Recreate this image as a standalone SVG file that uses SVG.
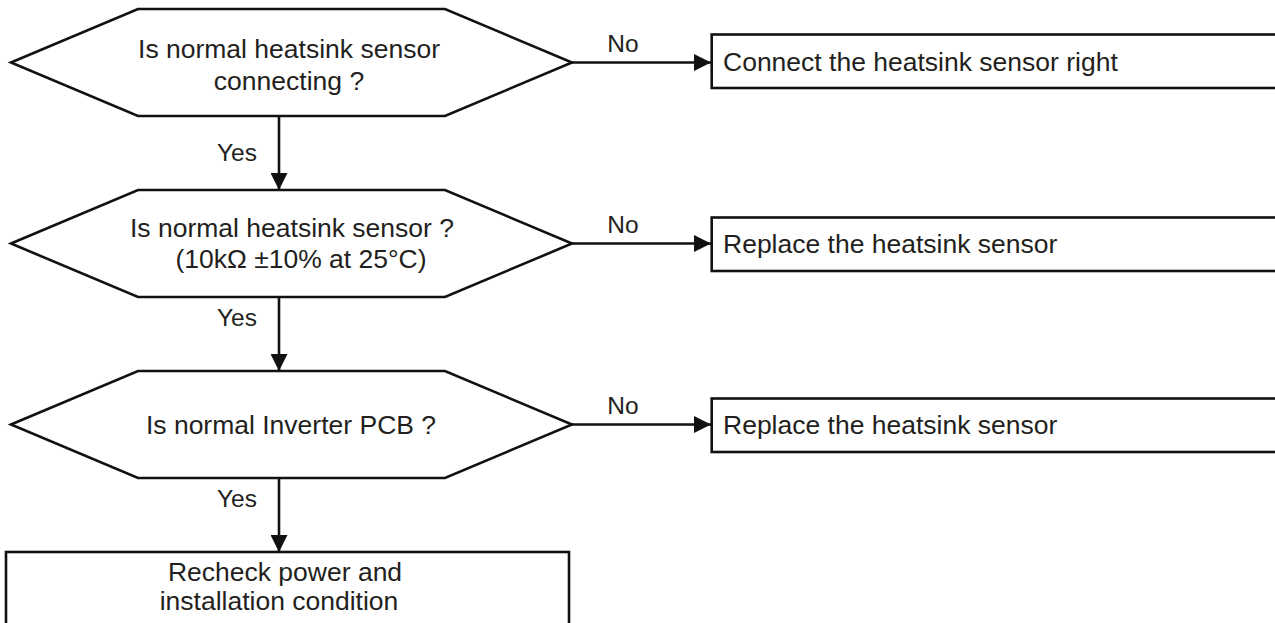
<svg xmlns="http://www.w3.org/2000/svg" width="1275" height="623" viewBox="0 0 1275 623">
<defs>
<style>
.shape{fill:#fff;stroke:#111;stroke-width:2.6;stroke-linejoin:miter}
.line{fill:none;stroke:#111;stroke-width:2.6}
text{font-family:"Liberation Sans",Arial,sans-serif;font-size:26.5px;fill:#231f20}
.lbl{font-size:24.5px}
.c{text-anchor:middle}
</style>
<marker id="ah" viewBox="0 0 10 10" refX="10" refY="5" markerWidth="17" markerHeight="17" markerUnits="userSpaceOnUse" orient="auto">
<path d="M0,0 L10,5 L0,10 Z" fill="#111"/>
</marker>
</defs>
<rect width="1275" height="623" fill="#fff"/>
<g id="connectors">
<line class="line" x1="279" y1="116" x2="279" y2="190" marker-end="url(#ah)"/>
<line class="line" x1="279" y1="297" x2="279" y2="371" marker-end="url(#ah)"/>
<line class="line" x1="279" y1="478" x2="279" y2="552" marker-end="url(#ah)"/>
<line class="line" x1="572" y1="62.5" x2="711" y2="62.5" marker-end="url(#ah)"/>
<line class="line" x1="572" y1="243.5" x2="711" y2="243.5" marker-end="url(#ah)"/>
<line class="line" x1="572" y1="424.5" x2="711" y2="424.5" marker-end="url(#ah)"/>
<text class="c lbl" x="237" y="161">Yes</text>
<text class="c lbl" x="237" y="326">Yes</text>
<text class="c lbl" x="237" y="507">Yes</text>
<text class="c lbl" x="623" y="52">No</text>
<text class="c lbl" x="623" y="233">No</text>
<text class="c lbl" x="623" y="414">No</text>
</g>
<g id="d1">
<polygon class="shape" points="11,62.5 138,9 445,9 572,62.5 445,116 138,116"/>
<text class="c" x="289" y="58">Is normal heatsink sensor</text>
<text class="c" x="289" y="90">connecting ?</text>
</g>
<g id="d2">
<polygon class="shape" points="11,243.5 138,190 445,190 572,243.5 445,297 138,297"/>
<text class="c" x="292" y="237">Is normal heatsink sensor ?</text>
<text class="c" x="301" y="268">(10kΩ ±10% at 25°C)</text>
</g>
<g id="d3">
<polygon class="shape" points="11,424.5 138,371 445,371 572,424.5 445,478 138,478"/>
<text class="c" x="291" y="434">Is normal Inverter PCB ?</text>
</g>
<g id="b1">
<rect class="shape" x="711.7" y="34.5" width="570" height="53.5"/>
<text x="723" y="71">Connect the heatsink sensor right</text>
</g>
<g id="b2">
<rect class="shape" x="711.7" y="217.5" width="570" height="53.5"/>
<text x="723" y="253">Replace the heatsink sensor</text>
</g>
<g id="b3">
<rect class="shape" x="711.7" y="398.5" width="570" height="53.5"/>
<text x="723" y="434">Replace the heatsink sensor</text>
</g>
<g id="b4">
<rect class="shape" x="6" y="552" width="563" height="100"/>
<text class="c" x="285" y="581">Recheck power and</text>
<text class="c" x="279" y="610">installation condition</text>
</g>
</svg>
